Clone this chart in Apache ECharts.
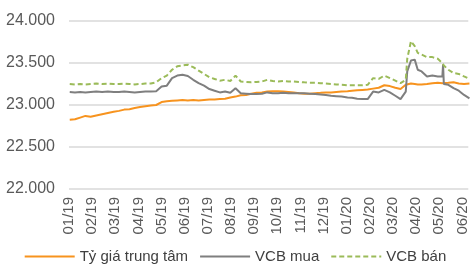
<!DOCTYPE html>
<html>
<head>
<meta charset="utf-8">
<script src="https://cdn.jsdelivr.net/npm/echarts@6/dist/echarts.min.js"></script>
<style>
  html, body { margin: 0; padding: 0; background: #fff; }
  #chart { width: 470px; height: 271px; }
</style>
</head>
<body>
<div id="chart"></div>
<script>
// ngày quan sát (gần như hàng tuần)
var dates = [
  '2019-01-02','2019-01-09','2019-01-16','2019-01-23','2019-01-30',
  '2019-02-06','2019-02-13','2019-02-20','2019-02-27',
  '2019-03-06','2019-03-13','2019-03-20','2019-03-27',
  '2019-04-03','2019-04-10','2019-04-17','2019-04-24',
  '2019-05-01','2019-05-08','2019-05-15','2019-05-22','2019-05-29',
  '2019-06-05','2019-06-12','2019-06-19','2019-06-26',
  '2019-07-03','2019-07-10','2019-07-17','2019-07-24','2019-07-31',
  '2019-08-07','2019-08-14','2019-08-21','2019-08-28',
  '2019-09-04','2019-09-11','2019-09-18','2019-09-25',
  '2019-10-02','2019-10-09','2019-10-16','2019-10-23','2019-10-30',
  '2019-11-06','2019-11-13','2019-11-20','2019-11-27',
  '2019-12-04','2019-12-11','2019-12-18','2019-12-25',
  '2020-01-02','2020-01-08','2020-01-15','2020-01-22','2020-01-29',
  '2020-02-05','2020-02-12','2020-02-19','2020-02-26',
  '2020-03-04','2020-03-11','2020-03-18','2020-03-20','2020-03-25','2020-03-30',
  '2020-04-01','2020-04-03','2020-04-08','2020-04-15','2020-04-22','2020-04-29',
  '2020-05-05','2020-05-06','2020-05-07','2020-05-13','2020-05-20','2020-05-27',
  '2020-06-03','2020-06-10'
];

var tyGiaTrungTam = [
  22825,22830,22850,22870,22860,
  22875,22890,22905,22920,
  22930,22945,22950,22965,
  22975,22985,22995,23000,
  23035,23045,23050,23055,23060,
  23055,23060,23055,23060,
  23065,23065,23070,23075,23090,
  23100,23115,23120,23135,
  23145,23150,23160,23165,
  23165,23160,23155,23150,23140,
  23135,23135,23140,23145,
  23150,23150,23155,23160,
  23165,23170,23175,23180,23185,
  23195,23205,23235,23225,
  23205,23190,23240,23250,23255,23250,
  23245,23245,23245,23250,23260,23265,
  23260,23260,23260,23265,23270,23255,
  23250,23255
];

var vcbMua = [
  23155,23150,23155,23150,23155,
  23160,23155,23160,23155,
  23155,23160,23155,23150,
  23155,23160,23160,23165,
  23220,23230,23320,23350,23360,
  23345,23300,23260,23230,
  23190,23170,23150,23160,23145,
  23200,23140,23135,23130,
  23130,23135,23150,23140,
  23140,23145,23140,23140,23140,
  23140,23135,23130,23125,
  23120,23110,23105,23100,
  23090,23085,23075,23070,23070,
  23160,23150,23180,23150,
  23110,23070,23160,23400,23530,23540,
  23520,23420,23400,23340,23350,23340,
  23340,23480,23250,23240,23200,23170,
  23120,23080
];

var vcbBan = [
  23250,23245,23250,23245,23250,
  23255,23250,23255,23250,
  23250,23255,23250,23245,
  23250,23255,23255,23270,
  23320,23350,23420,23460,23470,
  23480,23450,23410,23370,
  23330,23310,23290,23300,23285,
  23350,23280,23275,23270,
  23275,23280,23300,23285,
  23280,23285,23280,23280,23275,
  23270,23265,23265,23260,
  23255,23250,23245,23240,
  23235,23235,23235,23235,23240,
  23320,23310,23350,23320,
  23290,23260,23300,23550,23760,23700,
  23690,23620,23600,23570,23570,23550,
  23500,23490,23470,23420,23380,23370,
  23340,23310
];

var seriesNames = ['Tỷ giá trung tâm', 'VCB mua', 'VCB bán'];

// ngày -> chỉ số tháng (0 = 01/2019)
function monthIndex(s) {
  var p = s.split('-');
  var y = +p[0], mo = +p[1], d = +p[2];
  var dim = new Date(y, mo, 0).getDate();
  return (y - 2019) * 12 + (mo - 1) + (d - 1) / dim;
}

function toPoints(values) {
  var pts = [];
  for (var i = 0; i < dates.length; i++) {
    pts.push([monthIndex(dates[i]), values[i]]);
  }
  return pts;
}

var chart = echarts.init(document.getElementById('chart'));
chart.setOption({
  animation: false,
  color: ['#F7931E', '#7F7F7F', '#9BBB59'],
  textStyle: { fontFamily: 'Liberation Sans, Arial, sans-serif' },
  grid: { left: 69, right: 0, top: 21, bottom: 82 },
  legend: {
    data: seriesNames,
    left: 'center',
    bottom: 2,
    itemWidth: 50,
    itemHeight: 12,
    itemGap: 11,
    itemStyle: { opacity: 0 },
    textStyle: { fontSize: 15, color: '#404040' }
  },
  xAxis: {
    type: 'value',
    min: 0,
    max: 17.25,
    interval: 1,
    axisLine: { show: false },
    axisTick: { show: false },
    splitLine: { show: false },
    axisLabel: {
      rotate: 90,
      fontSize: 15,
      color: '#595959',
      margin: 8,
      showMaxLabel: false,
      formatter: function (v) {
        if (Math.abs(v - Math.round(v)) > 1e-6) return '';
        var k = Math.round(v);
        var mm = (k % 12) + 1;
        var yy = 19 + Math.floor(k / 12);
        return (mm < 10 ? '0' : '') + mm + '/' + yy;
      }
    }
  },
  yAxis: {
    type: 'value',
    min: 22000,
    max: 24000,
    interval: 500,
    axisLine: { show: false },
    axisTick: { show: false },
    splitLine: { lineStyle: { color: '#D9D9D9', width: 1.5 } },
    axisLabel: {
      fontSize: 16,
      color: '#595959',
      margin: 14,
      formatter: function (v) {
        return (v / 1000).toFixed(3);
      }
    }
  },
  series: [
    {
      name: seriesNames[0],
      type: 'line',
      symbol: 'none',
      data: toPoints(tyGiaTrungTam),
      lineStyle: { width: 2 }
    },
    {
      name: seriesNames[1],
      type: 'line',
      symbol: 'none',
      data: toPoints(vcbMua),
      lineStyle: { width: 2 }
    },
    {
      name: seriesNames[2],
      type: 'line',
      symbol: 'none',
      data: toPoints(vcbBan),
      lineStyle: { width: 2, type: [5, 3] }
    }
  ]
});
</script>
</body>
</html>
